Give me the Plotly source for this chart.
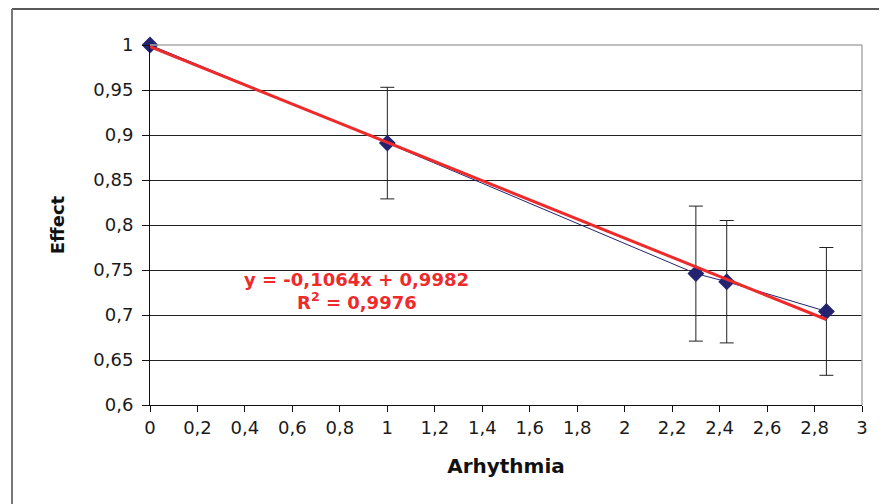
import plotly.graph_objects as go

# Data
arhythmia = [0, 1, 2.3, 2.43, 2.85]
effect = [1.0, 0.891, 0.746, 0.737, 0.704]
effect_err = [0, 0.062, 0.075, 0.068, 0.071]

trend_x = [0, 2.85]
trend_y = [0.9982, 0.6950]

x_ticks = [0, 0.2, 0.4, 0.6, 0.8, 1, 1.2, 1.4, 1.6, 1.8, 2, 2.2, 2.4, 2.6, 2.8, 3]
x_ticktext = ["0", "0,2", "0,4", "0,6", "0,8", "1", "1,2", "1,4", "1,6", "1,8", "2",
              "2,2", "2,4", "2,6", "2,8", "3"]
y_ticks = [0.6, 0.65, 0.7, 0.75, 0.8, 0.85, 0.9, 0.95, 1]
y_ticktext = ["0,6", "0,65", "0,7", "0,75", "0,8", "0,85", "0,9", "0,95", "1"]

eq_text = "y = -0,1064x + 0,9982"
r2_text = "R<sup>2</sup> = 0,9976"

FONT = "DejaVu Sans, Arial, sans-serif"
NAVY = "#23236F"
RED = "#EE2A2A"

fig = go.Figure()

fig.add_trace(go.Scatter(
    x=arhythmia, y=effect, mode="lines+markers",
    line=dict(color=NAVY, width=1),
    marker=dict(symbol="diamond", size=13, color=NAVY),
    error_y=dict(type="data", array=effect_err, visible=True,
                 color="#222222", thickness=1, width=7),
    showlegend=False, cliponaxis=False,
))

fig.add_trace(go.Scatter(
    x=trend_x, y=trend_y, mode="lines",
    line=dict(color=RED, width=3),
    showlegend=False, cliponaxis=False,
))

fig.update_layout(
    width=879, height=496,
    margin=dict(l=142, r=25, t=37, b=99),
    paper_bgcolor="white", plot_bgcolor="white",
    font=dict(family=FONT, size=18, color="#1a1a1a"),
    xaxis=dict(
        range=[0, 3], tickmode="array", tickvals=x_ticks, ticktext=x_ticktext,
        showgrid=False, zeroline=False,
        showline=True, linecolor="#111111", linewidth=1,
        ticks="outside", ticklen=6, tickcolor="#111111",
        tickfont=dict(size=18, family=FONT, color="#1a1a1a"),
        title=dict(text="<b>Arhythmia</b>", font=dict(size=20, family=FONT, color="#111111"),
                   standoff=22),
    ),
    yaxis=dict(
        range=[0.6, 1], tickmode="array", tickvals=y_ticks, ticktext=y_ticktext,
        showgrid=True, gridcolor="#222222", gridwidth=1, zeroline=False,
        showline=True, linecolor="#111111", linewidth=1,
        ticks="outside", ticklen=7, tickcolor="#111111", ticklabelstandoff=5,
        tickfont=dict(size=18, family=FONT, color="#1a1a1a"),
        title=dict(text="<b>Effect</b>", font=dict(size=18, family=FONT, color="#111111"),
                   standoff=24),
    ),
    shapes=[
        # plot area top and right border (light gray)
        dict(type="line", xref="paper", yref="paper", x0=0, x1=1, y0=1, y1=1,
             line=dict(color="#AAAAAA", width=1.5), layer="above"),
        dict(type="line", xref="paper", yref="paper", x0=1, x1=1, y0=0, y1=1,
             line=dict(color="#AAAAAA", width=1.5), layer="above"),
        # outer chart border (left and top)
        dict(type="line", xref="paper", yref="paper", x0=-0.1938, x1=1.04, y0=1.1, y1=1.1,
             line=dict(color="#222222", width=1.5)),
        dict(type="line", xref="paper", yref="paper", x0=-0.1938, x1=-0.1938, y0=-0.3, y1=1.1,
             line=dict(color="#777777", width=2)),
    ],
    annotations=[
        dict(x=0.872, y=0.7394, xref="x", yref="y", text="<b>" + eq_text + "</b>",
             showarrow=False, font=dict(size=18, family=FONT, color=RED)),
        dict(x=0.872, y=0.7156, xref="x", yref="y", text="<b>" + r2_text + "</b>",
             showarrow=False, font=dict(size=18, family=FONT, color=RED)),
    ],
)

fig.write_html("out.html")
